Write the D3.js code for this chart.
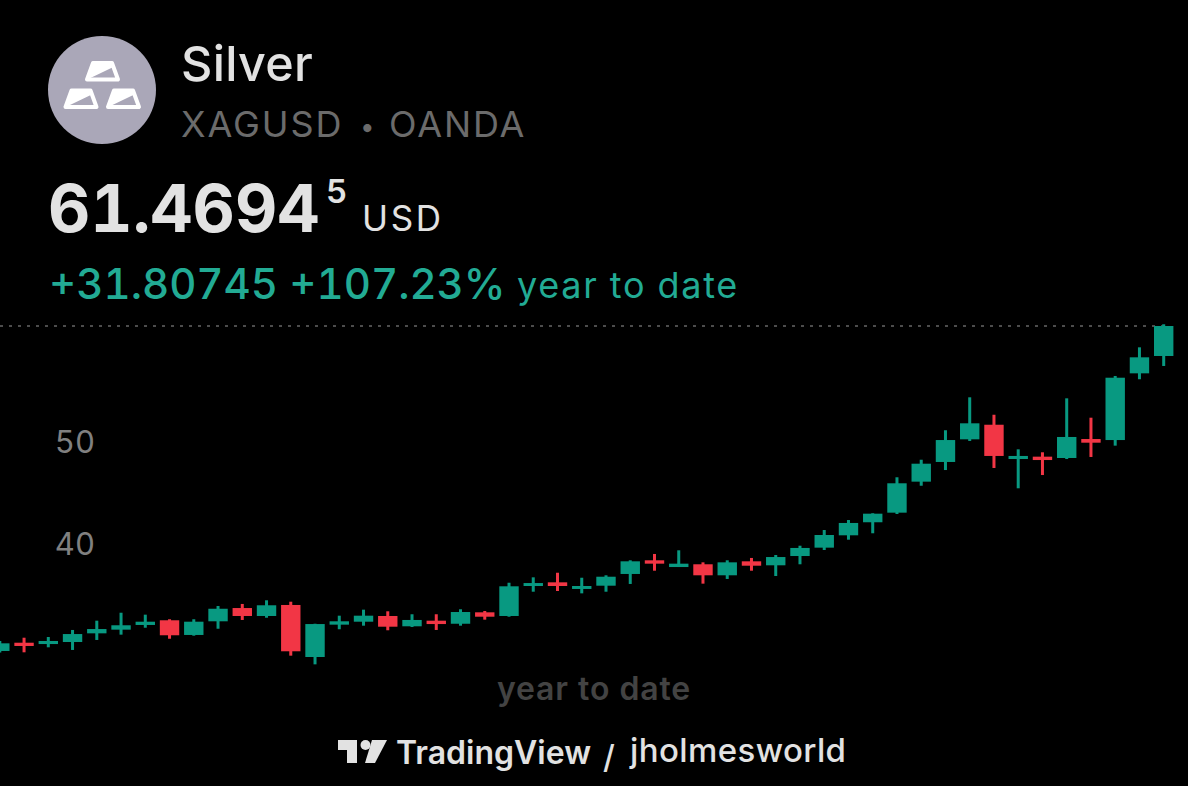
<!DOCTYPE html>
<html><head><meta charset="utf-8">
<script src="https://cdn.jsdelivr.net/npm/d3@7"></script>
<style>html,body{margin:0;background:#000}svg{display:block}text{font-family:Inter,Roboto,sans-serif;font-variant-numeric:tabular-nums}</style>
</head><body><svg id="c" width="1188" height="786"></svg>
<script>
const openP=[29.61,30.42,30.29,30.49,31.34,31.70,32.16,32.62,31.18,32.52,33.82,33.04,34.12,29.02,32.19,32.48,33.04,32.03,32.58,32.28,33.40,33.04,35.98,36.34,35.69,36.01,37.16,38.50,37.84,38.11,37.03,38.40,38.01,38.92,39.74,40.95,42.23,43.17,46.21,48.14,50.36,51.79,48.43,48.66,48.53,50.39,50.29,56.83,58.53];
const highP=[30.59,30.91,30.98,31.67,32.58,33.36,33.17,32.72,32.72,34.02,34.22,34.58,34.44,32.28,33.07,33.66,33.50,33.21,33.21,33.70,33.53,36.30,36.83,37.28,36.79,37.03,38.50,39.12,39.48,38.30,38.50,38.73,39.02,39.93,41.47,42.45,43.11,46.64,48.36,51.25,54.48,52.77,49.38,49.09,54.38,52.48,56.57,59.38,61.64];
const lowP=[29.46,29.48,29.97,29.71,30.69,31.21,31.89,30.81,31.11,31.79,32.65,32.87,29.15,28.30,31.74,32.09,31.64,31.96,31.67,32.09,32.68,32.97,35.42,35.49,35.26,35.42,36.18,37.48,37.84,36.21,36.67,37.48,36.96,38.11,39.51,40.52,41.15,43.04,45.81,47.35,50.20,47.55,45.56,46.86,48.43,48.63,49.74,56.25,57.55];
const closeP=[30.36,30.10,30.59,31.27,31.76,32.13,32.48,31.15,32.48,33.75,33.04,34.09,29.58,32.25,32.52,33.07,31.99,32.65,32.25,33.43,32.97,35.95,36.27,35.98,35.98,36.89,38.40,38.17,38.17,37.03,38.30,37.97,38.82,39.71,40.98,42.16,43.07,46.05,47.97,50.29,51.93,48.73,48.73,48.33,50.59,50.03,56.40,58.40,61.47];
const yTicks=[40,50];
const lastPrice=61.47;

const UP="#089981",DOWN="#f23645";
const svg=d3.select("#c");
const x=d3.scaleLinear().domain([0,48]).range([-0.2,1163.7]);
const y=d3.scaleLinear().domain([40,50]).range([545,443]);
const idx=d3.range(openP.length);
const col=i=>closeP[i]>=openP[i]?UP:DOWN;

// header
const icon=svg.append("g");
icon.append("circle").attr("cx",102).attr("cy",90).attr("r",54).attr("fill","#aaa7b8");
function bar(cx,cy){
  const g=icon.append("g").attr("transform",`translate(${cx},${cy})`);
  g.append("path").attr("d","M-15,7 L-9.5,-8 H9 L10,-5 Z").attr("fill","#fff").attr("stroke","#fff").attr("stroke-width",1.5).attr("stroke-linejoin","round");
  g.append("path").attr("d","M-9.5,-8.5 H9.5 L15.5,8 H-15.5 Z").attr("fill","none").attr("stroke","#fff").attr("stroke-width",4).attr("stroke-linejoin","round");
}
bar(102.5,71.5);bar(81,99);bar(123.5,99);

const T=(s,px,py,size,fill,weight=400,ls=0,anchor="start")=>
  svg.append("text").attr("x",px).attr("y",py).attr("font-size",size).attr("fill",fill).attr("font-weight",weight)
     .attr("letter-spacing",ls).attr("text-anchor",anchor).text(s);
T("Silver",181,81,48.5,"#e2e2e2",500,0.3);
T("XAGUSD",181,137,36,"#6b6b6b",400,1.9);
T("•",360,136,26,"#6b6b6b",400);
T("OANDA",389,137,36,"#6b6b6b",400,1.9);
T("61.4694",48,232,65.5,"#e2e2e2",700,0);
T("5",326,203,33,"#e2e2e2",600);
T("USD",362,231,35,"#e2e2e2",400,2.6);
T("+31.80745 +107.23%",49,299,42,"#22ab94",500,0);
T("year to date",517,298,36,"#22ab94",400,1.7);

// last price line
svg.append("line").attr("x1",0).attr("x2",x(48)).attr("y1",y(lastPrice)).attr("y2",y(lastPrice))
  .attr("stroke","#999").attr("stroke-width",1).attr("stroke-dasharray","3 6");

// axis labels
const axis=d3.axisLeft(y).tickValues(yTicks).tickSize(0).tickPadding(0);
const ag=svg.append("g").attr("transform","translate(95,0)").call(axis);
ag.select(".domain").remove();
ag.selectAll("text").attr("font-size",31).attr("fill","#808080").style("font-family","Inter,Roboto,sans-serif");

// candles
const c=svg.append("g").selectAll("g").data(idx).join("g");
c.append("rect").attr("x",i=>x(i)-1.5).attr("width",3).attr("y",i=>y(highP[i])).attr("height",i=>y(lowP[i])-y(highP[i])).attr("fill",col);
c.append("rect").attr("x",i=>x(i)-9.7).attr("width",19.4).attr("y",i=>y(Math.max(openP[i],closeP[i]))).attr("height",i=>Math.abs(y(openP[i])-y(closeP[i]))).attr("fill",col);

T("year to date",594,700,32,"#434343",600,0.8,"middle");

// TradingView mark
const logo=svg.append("g").attr("transform","translate(338,741)").attr("fill","#e2e2e2");
logo.append("path").attr("d","M0,-1 H19 V22 H9 V9 H0 Z");
logo.append("circle").attr("cx",27.5).attr("cy",4).attr("r",5);
logo.append("path").attr("d","M34,-1 H49 L37,22 H27 Z");
T("TradingView",396,764,32,"#e2e2e2",600);
T("/",603,768,32,"#e2e2e2",500);
T("jholmesworld",630,762,33,"#e2e2e2",500,0.4);
</script></body></html>
